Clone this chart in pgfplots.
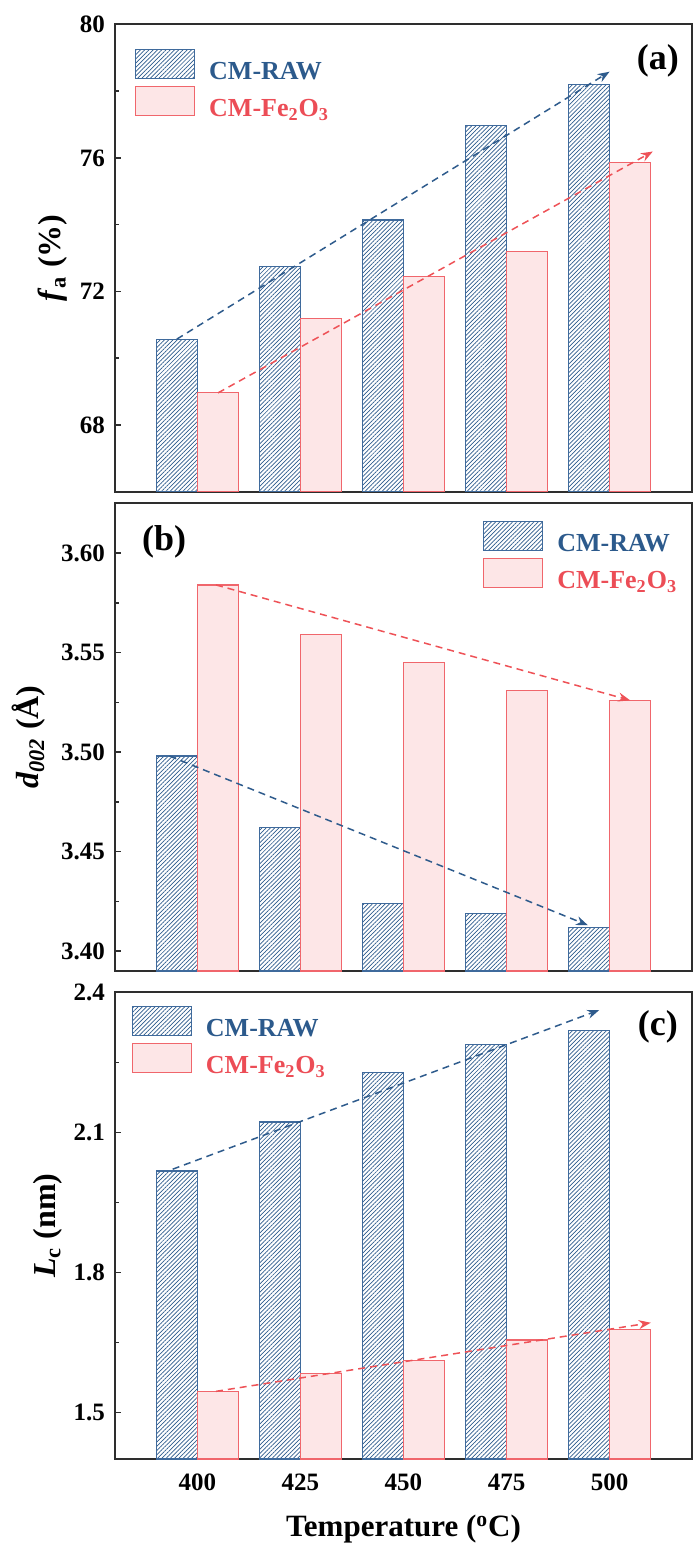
\documentclass[border=0pt]{standalone}
\usepackage{fontspec}
\setmainfont{Liberation Serif}
\usepackage{pgfplots}
\pgfplotsset{compat=1.18}
\usetikzlibrary{patterns,patterns.meta,arrows.meta}
\definecolor{rawblue}{HTML}{2C5A8C}
\definecolor{rawedge}{HTML}{3F6A9C}
\definecolor{fered}{HTML}{EC4D56}
\definecolor{feedge}{HTML}{F0666C}
\definecolor{fefill}{HTML}{FDE6E7}
\definecolor{axgray}{HTML}{2E2E2E}
\definecolor{arrblue}{HTML}{2E5B8C}
\definecolor{arrred}{HTML}{EE5257}

\pgfplotsset{
  common/.style={
    scale only axis, width=288.5pt,
    xmin=-0.8, xmax=4.8,
    xtick={0,1,2,3,4},
    major x tick style={draw=none},
    ytick pos=left,
    axis line style={line width=1pt, color=axgray},
    every tick/.style={axgray, line width=0.8pt},
    major tick length=3pt, minor tick length=2pt,
    minor y tick num=1,
    tick label style={font=\bfseries\fontsize{12.5}{14}\selectfont},
    /pgf/number format/assume math mode=true,
    yticklabel style={xshift=-1.5pt},
    ylabel style={font=\bfseries\fontsize{16}{18}\selectfont, anchor=center},
    legend style={draw=none, fill=none, inner sep=0pt, outer sep=0pt,
      row sep=1.5pt, column sep=7pt, nodes={inner sep=0pt},
      font=\bfseries\fontsize{13}{15}\selectfont, anchor=north west},
    legend cell align=left,
  },
  raw/.style={ybar, bar width=0.4, bar shift=-0.2, draw=rawedge, line width=0.6pt,
    pattern={Lines[angle=45,distance=1.5pt,line width=0.35pt]}, pattern color=rawblue,
    legend image code/.code={\draw[draw=rawedge, line width=0.6pt,
      pattern={Lines[angle=45,distance=1.5pt,line width=0.35pt]}, pattern color=rawblue]
      (0pt,-2.95pt) rectangle (29.5pt,11.55pt);}},
  fe/.style={ybar, bar width=0.4, bar shift=0.2, draw=feedge, line width=0.6pt, fill=fefill,
    legend image code/.code={\draw[draw=feedge, line width=0.6pt, fill=fefill]
      (0pt,-2.95pt) rectangle (29.5pt,11.55pt);}},
  arrb/.style={arrblue, line width=0.75pt, dash pattern=on 3.5pt off 2.5pt,
    -{Stealth[length=6pt,width=4.5pt]}, forget plot},
  arrr/.style={arrred, line width=0.75pt, dash pattern=on 3.5pt off 2.5pt,
    -{Stealth[length=6pt,width=4.5pt]}, forget plot},
}

\begin{document}
\begin{tikzpicture}
\useasboundingbox (0,0) rectangle (346.5pt,-774pt);

% (a)
\begin{axis}[common, at={(57.5pt,-245.85pt)}, anchor=south west, height=233.7pt,
  ymin=66, ymax=80, ytick={68,72,76,80}, xticklabels={},
  ylabel={\textit{f}\textsubscript{a} (\%)},
  ylabel style={at={(axis description cs:-0.108,0.5)}},
  legend style={at={(axis description cs:0.0347,0.947)}}]
\addplot[raw] coordinates {(0,70.57) (1,72.75) (2,74.14) (3,76.96) (4,78.20)};
\addlegendentry{\textcolor{rawblue}{CM-RAW}}
\addplot[fe] coordinates {(0,68.96) (1,71.20) (2,72.45) (3,73.19) (4,75.86)};
\addlegendentry{\textcolor{fered}{CM-Fe\textsubscript{2}O\textsubscript{3}}}
\addplot[arrb] coordinates {(-0.2,70.57) (4.0,78.58)};
\addplot[arrr] coordinates {(0.2,68.96) (4.42,76.19)};
\node[font=\bfseries\fontsize{18}{20}\selectfont] at (axis description cs:0.941,0.921) {(a)};
\end{axis}

% (b)
\begin{axis}[common, at={(57.5pt,-485.5pt)}, anchor=south west, height=233.85pt,
  ymin=3.39, ymax=3.625, ytick={3.40,3.45,3.50,3.55,3.60}, xticklabels={},
  yticklabel style={/pgf/number format/.cd, fixed, fixed zerofill, precision=2},
  ylabel={\textit{d}\textsubscript{\textit{002}} (Å)},
  ylabel style={at={(axis description cs:-0.149,0.5)}},
  legend style={at={(axis description cs:0.638,0.962)}}]
\addplot[raw] coordinates {(0,3.498) (1,3.462) (2,3.424) (3,3.419) (4,3.412)};
\addlegendentry{\textcolor{rawblue}{CM-RAW}}
\addplot[fe] coordinates {(0,3.584) (1,3.559) (2,3.545) (3,3.531) (4,3.526)};
\addlegendentry{\textcolor{fered}{CM-Fe\textsubscript{2}O\textsubscript{3}}}
\addplot[arrb] coordinates {(-0.27,3.498) (3.79,3.413)};
\addplot[arrr] coordinates {(0.18,3.584) (4.2,3.526)};
\node[font=\bfseries\fontsize{18}{20}\selectfont] at (axis description cs:0.085,0.918) {(b)};
\end{axis}

% (c)
\begin{axis}[common, at={(57.5pt,-729.5pt)}, anchor=south west, height=233.35pt,
  ymin=1.4, ymax=2.4, ytick={1.5,1.8,2.1,2.4},
  xticklabels={400,425,450,475,500},
  xticklabel style={yshift=-4pt},
  yticklabel style={/pgf/number format/.cd, fixed, fixed zerofill, precision=1},
  ylabel={\textit{L}\textsubscript{c} (nm)},
  ylabel style={at={(axis description cs:-0.117,0.5)}},
  xlabel={Temperature (\textsuperscript{o}C)},
  xlabel style={font=\bfseries\fontsize{15.5}{17}\selectfont, at={(axis description cs:0.5,0)}, anchor=north, inner sep=0pt, yshift=-28pt},
  legend style={at={(axis description cs:0.029,0.971)}}]
\addplot[raw] coordinates {(0,2.017) (1,2.122) (2,2.228) (3,2.288) (4,2.318)};
\addlegendentry{\textcolor{rawblue}{CM-RAW}}
\addplot[fe] coordinates {(0,1.545) (1,1.583) (2,1.611) (3,1.655) (4,1.677)};
\addlegendentry{\textcolor{fered}{CM-Fe\textsubscript{2}O\textsubscript{3}}}
\addplot[arrb] coordinates {(-0.24,2.021) (3.9,2.362)};
\addplot[arrr] coordinates {(0.18,1.545) (4.4,1.692)};
\node[font=\bfseries\fontsize{18}{20}\selectfont] at (axis description cs:0.941,0.925) {(c)};
\end{axis}
\end{tikzpicture}
\end{document}
